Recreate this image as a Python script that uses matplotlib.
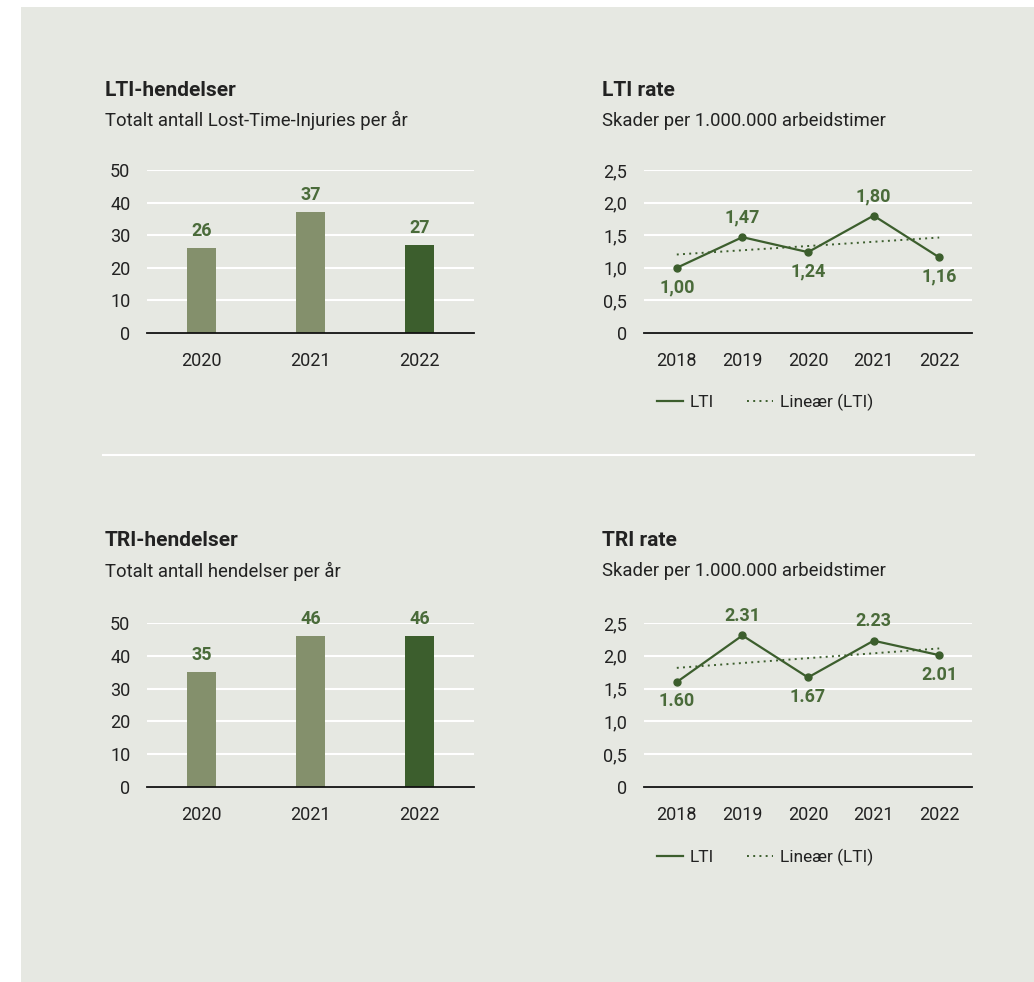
import numpy as np
import matplotlib.pyplot as plt
from matplotlib.patches import Rectangle
from matplotlib.lines import Line2D

plt.rcParams['font.family'] = ['Roboto', 'DejaVu Sans']

# data
bar_years = ["2020", "2021", "2022"]
lti_events = [26, 37, 27]
tri_events = [35, 46, 46]
bar_ticks = [0, 10, 20, 30, 40, 50]

rate_years = ["2018", "2019", "2020", "2021", "2022"]
lti_rate = [1.00, 1.47, 1.24, 1.80, 1.16]
tri_rate = [1.60, 2.31, 1.67, 2.23, 2.01]
lti_label_pos = ["below", "above", "below", "above", "below"]
tri_label_pos = ["below", "above", "below", "above", "below"]
rate_ticks = [0, 0.5, 1.0, 1.5, 2.0, 2.5]
rate_tick_labels = ["0", "0,5", "1,0", "1,5", "2,0", "2,5"]

BG = "#e6e8e2"
LIGHT = "#84906c"
DARK = "#3c5e2d"
GREEN = "#4a6b3a"
TXT = "#222222"

W, H = 1034, 982
fig = plt.figure(figsize=(W / 100, H / 100), dpi=100)
fig.patch.set_facecolor("white")
fig.patches.append(Rectangle((21 / W, 0), 1 - 21 / W, 1 - 7 / H,
                             transform=fig.transFigure, facecolor=BG,
                             edgecolor="none", zorder=-10))
# separator
fig.add_artist(Line2D([103 / W, 974 / W], [1 - 455 / H] * 2,
                      transform=fig.transFigure, color="white", lw=1.5))


def px_axes(left, top, right, bottom):
    return fig.add_axes([left / W, 1 - bottom / H, (right - left) / W, (bottom - top) / H])


def style(ax):
    ax.set_facecolor("none")
    for s in ["top", "right", "left"]:
        ax.spines[s].set_visible(False)
    ax.spines["bottom"].set_color("#111111")
    ax.spines["bottom"].set_linewidth(1.3)
    ax.spines["bottom"].set_zorder(5)
    ax.grid(axis="y", color="white", lw=1.5)
    ax.set_axisbelow(True)
    ax.tick_params(length=0, labelsize=13, colors=TXT)
    ax.tick_params(axis="y", pad=12)
    ax.tick_params(axis="x", pad=14)


def heading(x, y, title, sub):
    fig.text(x / W, 1 - y / H, title, fontsize=15, fontweight="semibold", color=TXT, va="center")
    fig.text(x / W, 1 - (y + 30.5) / H, sub, fontsize=13.3, color=TXT, va="center")


def bar_chart(ax, values):
    x = np.arange(len(bar_years))
    ax.bar(x, values, width=0.26, color=[LIGHT, LIGHT, DARK], zorder=3)
    for xi, v in zip(x, values):
        ax.annotate(str(v), (xi, v), xytext=(0, 6), textcoords="offset points",
                    ha="center", va="bottom", fontsize=13, fontweight="semibold", color=GREEN)
    ax.set_xticks(x)
    ax.set_xticklabels(bar_years)
    ax.set_yticks(bar_ticks)
    ax.set_xlim(-0.5, 2.5)
    ax.set_ylim(0, 50)
    style(ax)


def rate_chart(ax, values, positions, sep):
    x = np.arange(len(rate_years))
    ax.plot(x, values, color=DARK, lw=1.6, marker="o", ms=5, zorder=4)
    k, b = np.polyfit(x, values, 1)
    ax.plot(x, k * x + b, color=DARK, lw=1.4, ls=(0, (1, 2.2)), zorder=3)
    for xi, v, p in zip(x, values, positions):
        off = 14 if p == "above" else -14
        ax.annotate(f"{v:.2f}".replace(".", sep), (xi, v), xytext=(0, off),
                    textcoords="offset points", ha="center", va="center",
                    fontsize=13, fontweight="semibold", color=GREEN)
    ax.set_xticks(x)
    ax.set_xticklabels(rate_years)
    ax.set_yticks(rate_ticks)
    ax.set_yticklabels(rate_tick_labels)
    ax.set_xlim(-0.5, 4.5)
    ax.set_ylim(0, 2.5)
    style(ax)


def legend(ax, y):
    handles = [Line2D([], [], color=DARK, lw=1.6),
               Line2D([], [], color=DARK, lw=1.4, ls=(0, (1, 2.2)))]
    ax.legend(handles, ["LTI", "Lineær (LTI)"], loc="center left",
              bbox_to_anchor=(657 / W, 1 - y / H),
              bbox_transform=fig.transFigure, ncol=2, frameon=False,
              fontsize=12.5, handlelength=1.5, handletextpad=0.4,
              columnspacing=1.9, borderpad=0, borderaxespad=0,
              labelcolor=TXT)


heading(105, 90, "LTI-hendelser", "Totalt antall Lost-Time-Injuries per år")
heading(602, 90, "LTI rate", "Skader per 1.000.000 arbeidstimer")
heading(105, 541, "TRI-hendelser", "Totalt antall hendelser per år")
heading(602, 541, "TRI rate", "Skader per 1.000.000 arbeidstimer")

ax1 = px_axes(147, 170, 474, 333)
bar_chart(ax1, lti_events)

ax2 = px_axes(644, 170, 972, 333)
rate_chart(ax2, lti_rate, lti_label_pos, ",")
legend(ax2, 402)

ax3 = px_axes(147, 623, 474, 787)
bar_chart(ax3, tri_events)

ax4 = px_axes(644, 623, 972, 787)
rate_chart(ax4, tri_rate, tri_label_pos, ".")
legend(ax4, 857)

fig.savefig("out.png", dpi=100, facecolor=fig.get_facecolor())
